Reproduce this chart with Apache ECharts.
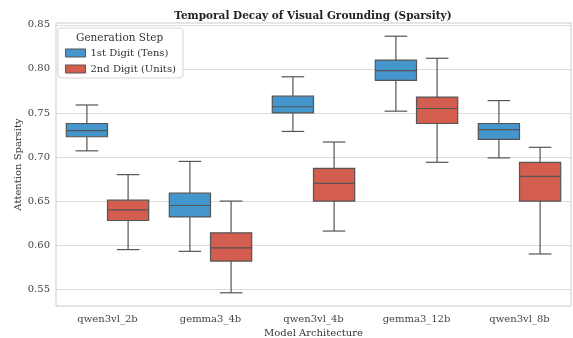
<!DOCTYPE html>
<html>
<head>
<meta charset="utf-8">
<script src="https://cdn.jsdelivr.net/npm/echarts@6/dist/echarts.min.js"></script>
<style>
  html, body { margin: 0; padding: 0; background: #fff; }
  #chart { width: 573px; height: 338px; }
</style>
</head>
<body>
<div id="chart"></div>
<script>
// model names on the x axis
var categories = ['qwen3vl_2b', 'gemma3_4b', 'qwen3vl_4b', 'gemma3_12b', 'qwen3vl_8b'];
var seriesNames = ['1st Digit (Tens)', '2nd Digit (Units)'];
var yTicks = [0.55, 0.60, 0.65, 0.70, 0.75, 0.80, 0.85];

// [low, q1, median, q3, high] per model
var tensBoxes = [
    [0.707, 0.723, 0.730, 0.738, 0.759],
    [0.593, 0.632, 0.645, 0.659, 0.695],
    [0.729, 0.750, 0.757, 0.769, 0.791],
    [0.752, 0.787, 0.798, 0.810, 0.837],
    [0.699, 0.720, 0.731, 0.738, 0.764]
];
var unitsBoxes = [
    [0.595, 0.628, 0.640, 0.651, 0.680],
    [0.546, 0.582, 0.597, 0.614, 0.650],
    [0.616, 0.650, 0.670, 0.687, 0.717],
    [0.694, 0.738, 0.755, 0.768, 0.812],
    [0.590, 0.650, 0.678, 0.694, 0.711]
];

var colors = ['#4596cd', '#d35d4f'];
var lineColor = '#555555';
var font = 'DejaVu Serif';

function toData(boxes) {
    return boxes.map(function(b, i) {
        return [i].concat(b);
    });
}

function makeRender(offset, fill) {
    return function(params, api) {
        var cat = api.value(0);
        var band = api.size([1, 0])[0];
        var cx = api.coord([cat, api.value(3)])[0] + offset * band;
        var w = band * 0.4;
        var cap = w * 0.55;
        var yLow = api.coord([cat, api.value(1)])[1];
        var yQ1 = api.coord([cat, api.value(2)])[1];
        var yMed = api.coord([cat, api.value(3)])[1];
        var yQ3 = api.coord([cat, api.value(4)])[1];
        var yHigh = api.coord([cat, api.value(5)])[1];
        var ls = { stroke: lineColor, lineWidth: 1.2 };
        return {
            type: 'group',
            children: [
                { type: 'line', shape: { x1: cx, y1: yQ1, x2: cx, y2: yLow }, style: ls },
                { type: 'line', shape: { x1: cx, y1: yQ3, x2: cx, y2: yHigh }, style: ls },
                { type: 'line', shape: { x1: cx - cap / 2, y1: yLow, x2: cx + cap / 2, y2: yLow }, style: ls },
                { type: 'line', shape: { x1: cx - cap / 2, y1: yHigh, x2: cx + cap / 2, y2: yHigh }, style: ls },
                { type: 'rect', shape: { x: cx - w / 2, y: yQ3, width: w, height: yQ1 - yQ3 },
                  style: { fill: fill, stroke: lineColor, lineWidth: 1.2 } },
                { type: 'line', shape: { x1: cx - w / 2, y1: yMed, x2: cx + w / 2, y2: yMed }, style: ls }
            ]
        };
    };
}

var chart = echarts.init(document.getElementById('chart'));

var option = {
    backgroundColor: '#ffffff',
    animation: false,
    title: {
        text: 'Temporal Decay of Visual Grounding (Sparsity)',
        left: 308,
        textAlign: 'center',
        top: 6,
        textStyle: { fontFamily: font, fontWeight: 'bold', fontSize: 10.5, color: '#222' }
    },
    legend: {
        orient: 'vertical',
        left: 58,
        top: 28,
        padding: [20, 7, 4, 7],
        itemWidth: 20,
        itemHeight: 8,
        itemGap: 6,
        icon: 'rect',
        backgroundColor: 'rgba(255,255,255,0.85)',
        borderColor: '#d6d6d6',
        borderWidth: 1,
        borderRadius: 3,
        data: seriesNames,
        itemStyle: { borderColor: lineColor, borderWidth: 1 },
        textStyle: { fontFamily: font, fontSize: 10, color: '#333' }
    },
    graphic: [{
        type: 'text',
        left: 76,
        top: 33,
        z: 100,
        style: { text: 'Generation Step', font: '10.5px "DejaVu Serif"', fill: '#333' }
    }],
    grid: {
        left: 56,
        right: 2,
        top: 23,
        bottom: 32,
        outerBoundsMode: 'none',
        containLabel: false,
        show: true,
        borderColor: '#cccccc',
        borderWidth: 1
    },
    xAxis: {
        type: 'category',
        data: categories,
        name: 'Model Architecture',
        nameLocation: 'middle',
        nameGap: 22,
        nameMoveOverlap: false,
        nameTextStyle: { fontFamily: font, fontSize: 10, color: '#333' },
        axisLine: { show: false },
        axisTick: { show: false },
        axisLabel: { fontFamily: font, fontSize: 10, color: '#444', margin: 8 },
        splitLine: { show: false }
    },
    yAxis: {
        type: 'value',
        min: 0.531,
        max: 0.852,
        name: 'Attention Sparsity',
        nameLocation: 'middle',
        nameGap: 33,
        nameMoveOverlap: false,
        nameTextStyle: { fontFamily: font, fontSize: 10, color: '#333' },
        axisLine: { show: false },
        axisTick: { show: false, customValues: yTicks },
        axisLabel: {
            customValues: yTicks,
            fontFamily: font, fontSize: 10, color: '#444', margin: 6,
            formatter: function(v) { return v.toFixed(2); }
        },
        splitLine: { show: true, lineStyle: { color: '#dddddd', width: 1 } }
    },
    series: [{
        name: seriesNames[0],
        type: 'custom',
        itemStyle: { color: colors[0] },
        encode: { x: 0, y: [1, 2, 3, 4, 5] },
        renderItem: makeRender(-0.2, colors[0]),
        data: toData(tensBoxes)
    }, {
        name: seriesNames[1],
        type: 'custom',
        itemStyle: { color: colors[1] },
        encode: { x: 0, y: [1, 2, 3, 4, 5] },
        renderItem: makeRender(0.2, colors[1]),
        data: toData(unitsBoxes)
    }]
};

chart.setOption(option);

window.onresize = function() {
    chart.resize();
};
</script>
</body>
</html>
